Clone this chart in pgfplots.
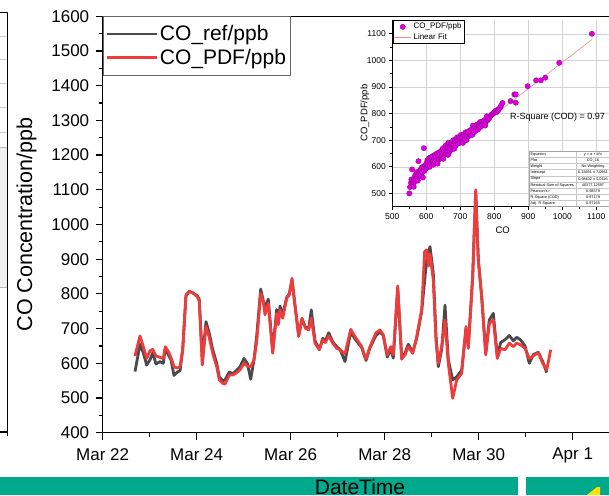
\documentclass[border=0pt]{standalone}
\usepackage{pgfplots}
\pgfplotsset{compat=1.18}
\usepackage{pgfplotstable}
\usepackage{fontspec}
\setmainfont{Liberation Sans}

\definecolor{refgray}{HTML}{4A4A4A}
\definecolor{pdfred}{HTML}{EE3B3B}
\definecolor{ptmag}{HTML}{DD00DD}
\definecolor{ptedge}{HTML}{8A008A}
\definecolor{fitred}{HTML}{F08A8A}
\definecolor{barteal}{HTML}{00A98B}

% CO from the reference instrument (days after Mar 22, ppb)
\pgfplotstableread{
day value
0.687 576
0.794 655
0.864 630
0.936 595
1.006 610
1.064 630
1.134 598
1.219 605
1.289 600
1.332 642
1.396 625
1.453 610
1.517 565
1.587 575
1.645 578
1.702 640
1.772 795
1.843 808
1.928 802
2.013 794
2.055 785
2.119 610
2.198 720
2.262 690
2.340 640
2.426 600
2.481 560
2.553 550
2.602 552
2.694 575
2.766 570
2.851 580
2.921 590
3.006 614
3.077 600
3.149 554
3.219 610
3.277 680
3.362 814
3.417 780
3.453 760
3.523 785
3.617 635
3.702 755
3.736 720
3.772 765
3.830 740
3.915 790
3.970 800
4.028 840
4.085 775
4.170 680
4.240 728
4.311 705
4.383 700
4.438 754
4.517 665
4.609 640
4.681 672
4.736 665
4.809 688
4.894 662
4.979 648
5.049 640
5.155 605
5.277 690
5.368 670
5.511 645
5.602 608
5.687 645
5.815 680
5.900 690
5.970 680
6.055 618
6.128 640
6.183 615
6.277 815
6.362 612
6.432 630
6.502 655
6.596 632
6.681 672
6.787 750
6.894 900
6.964 936
7.034 860
7.091 680
7.140 590
7.213 640
7.283 768
7.353 610
7.447 552
7.532 561
7.638 580
7.730 700
7.779 650
7.872 850
7.936 1095
7.991 900
8.064 790
8.149 630
8.226 725
8.311 744
8.396 620
8.468 660
8.560 668
8.651 680
8.736 665
8.809 675
8.894 667
8.985 650
9.077 600
9.162 625
9.268 632
9.362 605
9.447 573
}\refdata

% CO estimated by the PDF method (days after Mar 22, ppb)
\pgfplotstableread{
day value
0.687 621
0.794 679
0.864 648
0.936 614
1.006 636
1.064 640
1.134 621
1.219 617
1.289 614
1.332 648
1.396 634
1.453 617
1.517 590
1.587 586
1.645 590
1.702 639
1.772 797
1.843 807
1.928 802
2.013 792
2.055 778
2.119 595
2.198 706
2.262 677
2.340 629
2.426 590
2.481 552
2.553 542
2.602 540
2.694 566
2.766 566
2.851 573
2.921 581
3.006 600
3.077 592
3.149 590
3.219 610
3.277 662
3.362 802
3.417 778
3.453 740
3.523 773
3.617 629
3.702 744
3.736 711
3.772 754
3.830 730
3.915 788
3.970 797
4.028 845
4.085 773
4.170 677
4.240 730
4.311 701
4.383 696
4.438 730
4.517 658
4.609 639
4.681 667
4.736 660
4.809 679
4.894 658
4.979 643
5.049 639
5.155 627
5.277 698
5.368 677
5.511 648
5.602 612
5.687 648
5.815 688
5.900 696
5.970 682
6.055 624
6.128 648
6.183 624
6.277 823
6.362 614
6.432 624
6.502 648
6.596 629
6.681 677
6.787 754
6.850 922
6.894 927
6.930 880
6.964 915
7.034 840
7.091 667
7.140 600
7.213 648
7.283 725
7.353 600
7.447 499
7.532 552
7.638 571
7.730 706
7.779 643
7.872 850
7.936 1100
7.991 898
8.064 792
8.149 624
8.226 715
8.311 725
8.396 614
8.468 643
8.560 639
8.651 658
8.736 648
8.809 658
8.894 653
8.985 643
9.077 614
9.162 621
9.268 631
9.362 600
9.447 581
9.532 639
}\pdfdata

% CO (reference) against CO_PDF, ppb
\pgfplotstableread{
x y
550 500
552 524
555 540
556 552
558 590
560 535
562 548
563 525
565 560
566 545
568 570
570 555
572 580
574 562
575 548
577 621
578 575
580 585
582 566
584 590
585 572
587 598
588 580
590 560
592 600
593 670
594 585
596 605
598 592
600 612
601 598
603 625
605 605
606 618
608 632
610 600
611 620
613 635
615 612
616 628
618 640
620 622
621 608
623 630
625 645
626 618
628 638
630 625
631 650
633 612
635 640
637 628
638 655
640 645
642 632
644 660
645 640
647 650
649 670
650 630
652 655
654 645
656 668
657 680
659 650
660 662
662 672
664 645
665 690
667 668
669 658
670 678
672 685
674 665
675 690
677 672
679 700
680 682
682 668
684 692
685 700
687 680
689 695
690 710
692 688
694 700
696 712
698 690
700 705
702 720
704 695
706 710
708 690
710 722
712 705
714 718
716 730
718 700
720 712
722 728
724 715
726 735
728 720
730 725
733 740
735 720
737 755
740 730
742 745
745 735
748 748
750 760
752 740
755 755
758 768
760 750
763 760
765 770
768 762
770 775
773 755
775 768
778 790
780 775
783 780
786 785
790 792
793 798
797 800
800 805
803 810
807 806
810 815
812 812
817 822
820 830
824 840
848 847
859 872
863 872
863 841
898 903
923 925
937 925
950 935
991 991
1087 1100
}\scatterdata

\begin{document}
\begin{tikzpicture}[x=1pt,y=1pt]
\useasboundingbox (0pt,0pt) rectangle (609pt,495pt);
\clip (0pt,0pt) rectangle (609pt,495pt);

% edge of the neighbouring window on the left
\draw[gray!40, line width=0.5pt] (0,459) -- (7.3,459) (0,436) -- (7.3,436)
  (0,412) -- (7.3,412) (0,388) -- (7.3,388) (0,363) -- (7.3,363);
\filldraw[fill=gray!12, draw=gray!55, line width=0.5pt] (-1,208) rectangle (7.3,348);
\draw[black, line width=1.2pt] (0,482.3) -- (7.3,482.3) -- (7.3,63) -- (0,63);
\draw[black, line width=1.2pt] (7.3,63) -- (7.3,59);

% status bars along the bottom
\fill[barteal] (0,0) rectangle (518,18);
\fill[barteal] (526,0) rectangle (609,18);
\fill[yellow!85!orange] (587,0) -- (597,8) -- (600,8) -- (600,0) -- cycle;

% scatter inset
\begin{axis}[
  at={(392.3pt,288.3pt)}, anchor=south west,
  scale only axis, width=221pt, height=186.2pt,
  xmin=500, xmax=1150, ymin=450, ymax=1150,
  axis lines=left, axis line style={-, line width=0.8pt},
  xtick={500,600,...,1100}, ytick={500,600,...,1100},
  minor tick num=1,
  tick align=outside, major tick length=3pt, minor tick length=2pt,
  every tick/.style={black, line width=0.6pt},
  grid=major, grid style={gray!35, line width=0.5pt},
  tick label style={font=\fontsize{8.5}{10}\selectfont},
  /pgf/number format/assume math mode=true,
  /pgf/number format/1000 sep={},
  xlabel={CO}, ylabel={CO\_PDF/ppb},
  xlabel style={at={(axis description cs:0.4995,-0.125)}, anchor=center, font=\fontsize{9.5}{11}\selectfont},
  ylabel style={at={(axis description cs:-0.1235,0.503)}, anchor=center, font=\fontsize{9.5}{11}\selectfont},
  legend style={at={(0.004,1.0)}, anchor=north west, draw=black, line width=0.4pt,
    font=\fontsize{8}{9.5}\selectfont, inner sep=0.5pt, row sep=-1pt, fill=white},
  legend cell align=left,
  axis background/.style={fill=white},
]
\addplot[only marks, mark=*, mark size=2.7pt, mark options={fill=ptmag, draw=ptedge, line width=0.3pt}]
  table[x=x, y=y] {\scatterdata};
\addlegendentry{CO\_PDF/ppb}
\addplot[fitred, line width=0.6pt] coordinates {(550,548.6) (1087,1078.3)};
\addlegendentry{Linear Fit}
\node[anchor=west, font=\fontsize{9}{11}\selectfont] at (axis cs:836,786) {R-Square (COD) = 0.97};
\end{axis}

% fit summary table
\fill[white] (529.3,288.3) rectangle (615,344);
\foreach \r in {1,...,8} {
  \draw[gray!45, line width=0.3pt] (529.3,{288.3+\r*6.19}) -- (615,{288.3+\r*6.19});
}
\draw[gray!45, line width=0.3pt] (576,288.3) -- (576,344);
\draw[gray!70, line width=0.4pt] (529.3,288.3) rectangle (615,344);
\foreach \lab/\val [count=\i] in {Equation/{y = a + b*x}, Plot/{CO\_16}, Weight/{No Weighting},
  Intercept/{6.15691 ± 7.0961}, Slope/{0.98632 ± 0.0116},
  Residual Sum of Squares/{40377.12597}, Pearson's r/{0.98579},
  R-Square (COD)/{0.97179}, Adj. R-Square/{0.97165}} {
  \node[anchor=west, inner sep=0pt, font=\fontsize{3.8}{4}\selectfont] at (530.5,{344-(\i-0.5)*6.19}) {\lab};
  \node[anchor=center, inner sep=0pt, font=\fontsize{3.8}{4}\selectfont] at (593,{344-(\i-0.5)*6.19}) {\val};
}

% main time series
\begin{axis}[
  at={(102.7pt,62.3pt)}, anchor=south west,
  scale only axis, width=517pt, height=416.4pt,
  xmin=0, xmax=11, ymin=400, ymax=1600,
  xtick={0,2,...,10}, xticklabels={Mar 22, Mar 24, Mar 26, Mar 28, Mar 30, Apr 1},
  ytick={400,500,...,1600},
  minor tick num=1,
  tick align=outside, tick pos=left,
  major tick length=7pt, minor tick length=4pt,
  every tick/.style={black, line width=1.2pt},
  axis line style={line width=1.3pt},
  tick label style={font=\fontsize{17}{20}\selectfont},
  xticklabel style={yshift=-5pt},
  yticklabel style={xshift=-3pt},
  /pgf/number format/assume math mode=true,
  /pgf/number format/1000 sep={},
  ylabel={CO Concentration/ppb},
  ylabel style={at={(axis description cs:-0.1474,0.5)}, anchor=center, font=\fontsize{21.5}{25}\selectfont},
  xlabel={DateTime},
  xlabel style={at={(axis description cs:0.4977,-0.1292)}, anchor=center, inner sep=0pt, font=\fontsize{21}{24}\selectfont},
  legend style={at={(0,1)}, anchor=north west, draw=gray!80!black, line width=0.8pt,
    font=\fontsize{21}{24}\selectfont, fill=white, inner xsep=2pt, inner ysep=7pt, row sep=3pt},
  legend image code/.code={\draw[#1] (0pt,0pt) -- (50pt,0pt);},
  legend cell align=left,
]
\addplot[refgray, line width=2.8pt, line join=round] table[x=day, y=value] {\refdata};
\addlegendentry{CO\_ref/ppb}
\addplot[pdfred, line width=2.8pt, line join=round] table[x=day, y=value] {\pdfdata};
\addlegendentry{CO\_PDF/ppb}
\end{axis}
\end{tikzpicture}
\end{document}
